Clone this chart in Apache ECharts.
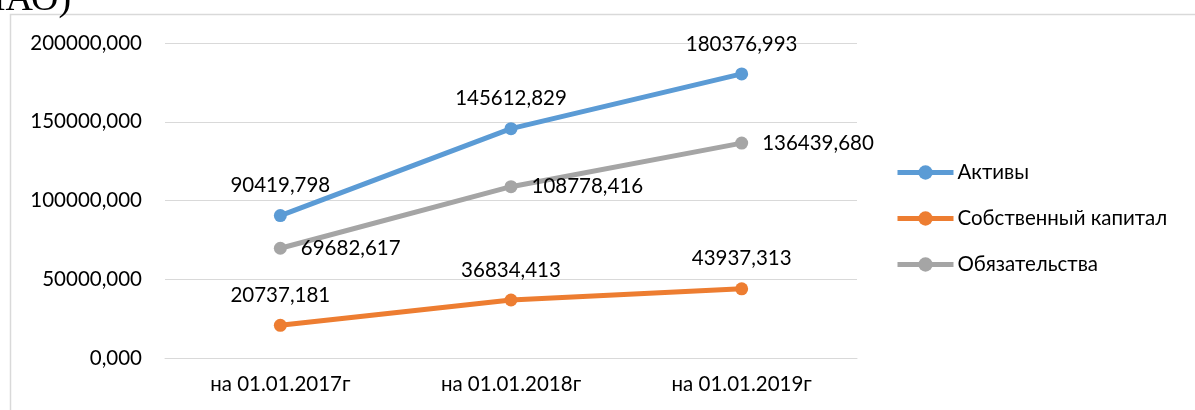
<!DOCTYPE html>
<html>
<head>
<meta charset="utf-8">
<script src="https://cdn.jsdelivr.net/npm/echarts@6/dist/echarts.min.js"></script>
<style>
  html, body { margin: 0; padding: 0; background: #fff; }
  #chart { width: 1195px; height: 410px; }
</style>
</head>
<body>
<div id="chart"></div>
<script>
// Balance structure by reporting date
const categories = ['на 01.01.2017г', 'на 01.01.2018г', 'на 01.01.2019г'];
const assets = [90419.798, 145612.829, 180376.993];
const equity = [20737.181, 36834.413, 43937.313];
const liabilities = [69682.617, 108778.416, 136439.680];
const yTicks = [0, 50000, 100000, 150000, 200000];

const FONT = 'Lato, "Open Sans", sans-serif';
const FS = 20.5;
const fmt = v => v.toFixed(3).replace('.', ',');

const chart = echarts.init(document.getElementById('chart'));

function lineSeries(name, data, color, labelPos, labelDist) {
  return {
    name: name,
    type: 'line',
    data: data,
    symbol: 'circle',
    symbolSize: 13,
    lineStyle: { color: color, width: 5 },
    itemStyle: { color: color },
    label: {
      show: true,
      position: labelPos,
      distance: labelDist,
      color: '#000',
      fontFamily: FONT,
      fontSize: FS,
      formatter: p => fmt(p.value)
    },
    emphasis: { disabled: true },
    animation: false
  };
}

chart.setOption({
  backgroundColor: '#fff',
  grid: { left: 165, right: 338, top: 43, bottom: 52 },
  xAxis: {
    type: 'category',
    data: categories,
    boundaryGap: true,
    axisLine: { show: true, lineStyle: { color: '#d9d9d9', width: 1 } },
    axisTick: { show: false },
    axisLabel: { color: '#000', fontFamily: FONT, fontSize: FS, margin: 16 }
  },
  yAxis: {
    type: 'value',
    min: yTicks[0],
    max: yTicks[yTicks.length - 1],
    interval: yTicks[1] - yTicks[0],
    axisLine: { show: false },
    axisTick: { show: false },
    splitLine: { lineStyle: { color: '#d9d9d9', width: 1 } },
    axisLabel: { color: '#000', fontFamily: FONT, fontSize: FS, margin: 23, formatter: v => fmt(v) }
  },
  legend: {
    orient: 'vertical',
    left: 890,
    top: 157,
    itemWidth: 56,
    itemHeight: 18,
    itemGap: 25,
    lineStyle: { width: 5 },
    textStyle: { color: '#000', fontFamily: FONT, fontSize: FS, padding: [0, 0, 0, -1] },
    data: ['Активы', 'Собственный капитал', 'Обязательства']
  },
  graphic: [
    {
      type: 'rect',
      shape: { x: 10.5, y: 14.5, width: 1200, height: 420 },
      style: { fill: 'none', stroke: '#d9d9d9', lineWidth: 1.5 },
      silent: true, z: -1
    },
    {
      type: 'text',
      x: -22,
      y: 19,
      style: {
        text: 'ПАО)',
        fill: '#000',
        fontFamily: '"Liberation Serif", serif',
        fontSize: 38,
        verticalAlign: 'bottom'
      },
      silent: true
    }
  ],
  series: [
    lineSeries('Активы', assets, '#5B9BD5', 'top', 13),
    lineSeries('Собственный капитал', equity, '#ED7D31', 'top', 13),
    lineSeries('Обязательства', liabilities, '#A5A5A5', 'right', 14)
  ]
});
</script>
</body>
</html>
